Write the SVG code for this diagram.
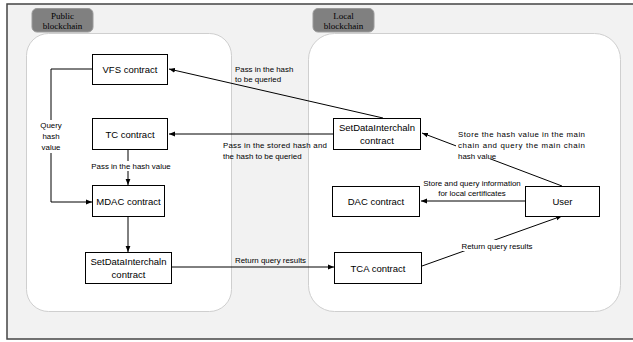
<svg xmlns="http://www.w3.org/2000/svg" width="633" height="342" viewBox="0 0 633 342">
<defs>
<marker id="ah" viewBox="0 0 10 10" refX="10" refY="5" markerWidth="6" markerHeight="6" orient="auto" markerUnits="userSpaceOnUse">
<path d="M0,1 L10,5 L0,9 z" fill="#000"/>
</marker>
<style>
.box{fill:#fff;stroke:#000;stroke-width:1}
.bt{font-family:"Liberation Sans",Arial,sans-serif;font-size:9.5px;fill:#000;text-anchor:middle}
.lt{font-family:"Liberation Sans",Arial,sans-serif;font-size:7.9px;fill:#000}
.tag{fill:#808080;stroke:#9a9a9a;stroke-width:1}
.tt{font-family:"Liberation Serif","Times New Roman",serif;font-size:9px;fill:#000;text-anchor:middle}
.cont{fill:#fff;stroke:#cfcfcf;stroke-width:1}
.ln{fill:none;stroke:#000;stroke-width:1;marker-end:url(#ah)}
.bg{fill:#fff}
</style>
</defs>
<rect x="7" y="4" width="630" height="335" fill="#f2f2f2" stroke="#444" stroke-width="1.5"/>
<g id="public-chain">
<rect class="cont" x="26.5" y="33.5" width="205" height="278" rx="22"/>
<rect class="tag" x="32" y="8.5" width="61" height="23.5" rx="5"/>
<text class="tt" x="62.5" y="18.5">Public</text>
<text class="tt" x="62.5" y="28.5">blockchain</text>
</g>
<g id="local-chain">
<rect class="cont" x="308.5" y="33.5" width="312" height="278" rx="26"/>
<rect class="tag" x="313" y="8.5" width="61" height="23.5" rx="5"/>
<text class="tt" x="343.5" y="18.5">Local</text>
<text class="tt" x="343.5" y="28.5">blockchain</text>
</g>
<g id="connectors">
<path class="ln" d="M383,118 L169,69"/>
<path class="ln" d="M333,134 L169,134"/>
<path class="ln" d="M92,69 L51,69 L51,202 L92,202"/>
<path class="ln" d="M128,150 L128,185"/>
<path class="ln" d="M128,217 L128,252"/>
<path class="ln" d="M172,267 L334,267"/>
<path class="ln" d="M562,186 L422,133"/>
<path class="ln" d="M525,201 L421,201"/>
<path class="ln" d="M422,266 L562,216"/>
</g>
<g id="labels">
<text class="lt" x="235" y="72">Pass in the hash</text>
<text class="lt" x="235" y="82">to be queried</text>
<rect class="bg" x="36" y="120" width="30" height="33"/>
<text class="lt" x="51" y="128" text-anchor="middle">Query</text>
<text class="lt" x="51" y="139" text-anchor="middle">hash</text>
<text class="lt" x="51" y="150" text-anchor="middle">value</text>
<rect class="bg" x="90" y="161" width="82" height="10"/>
<text class="lt" x="131" y="169" text-anchor="middle">Pass in the hash value</text>
<text class="lt" x="223" y="148" textLength="104" lengthAdjust="spacing">Pass in the stored hash and</text>
<text class="lt" x="223" y="159">the hash to be queried</text>
<rect class="bg" x="456" y="129" width="131" height="30"/>
<text class="lt" x="458" y="137" textLength="127" lengthAdjust="spacing">Store the hash value in the main</text>
<text class="lt" x="458" y="148" textLength="127" lengthAdjust="spacing">chain and query the main chain</text>
<text class="lt" x="458" y="159">hash value</text>
<text class="lt" x="472" y="186" text-anchor="middle">Store and query information</text>
<text class="lt" x="472" y="196" text-anchor="middle">for local certificates</text>
<text class="lt" x="235" y="263">Return query results</text>
<rect class="bg" x="458" y="240" width="78" height="11"/>
<text class="lt" x="497" y="249" text-anchor="middle">Return query results</text>
</g>
<g id="vfs">
<rect class="box" x="92.5" y="54.5" width="75" height="30"/>
<text class="bt" x="130" y="73">VFS contract</text>
</g>
<g id="tc">
<rect class="box" x="92.5" y="118.5" width="75" height="31"/>
<text class="bt" x="130" y="137.5">TC contract</text>
</g>
<g id="mdac">
<rect class="box" x="92.5" y="185.5" width="72" height="31"/>
<text class="bt" x="128.5" y="204.5">MDAC contract</text>
</g>
<g id="sdi-public">
<rect class="box" x="85.5" y="252.5" width="86" height="31"/>
<text class="bt" x="128.5" y="265">SetDataInterchaln</text>
<text class="bt" x="128.5" y="278">contract</text>
</g>
<g id="sdi-local">
<rect class="box" x="333.5" y="118.5" width="87" height="31"/>
<text class="bt" x="377" y="131">SetDataInterchaln</text>
<text class="bt" x="377" y="144">contract</text>
</g>
<g id="dac">
<rect class="box" x="332.5" y="186.5" width="87" height="30"/>
<text class="bt" x="376" y="205">DAC contract</text>
</g>
<g id="user">
<rect class="box" x="525.5" y="186.5" width="74" height="30"/>
<text class="bt" x="562.5" y="205">User</text>
</g>
<g id="tca">
<rect class="box" x="334.5" y="252.5" width="87" height="31"/>
<text class="bt" x="378" y="271.5">TCA contract</text>
</g>
</svg>
